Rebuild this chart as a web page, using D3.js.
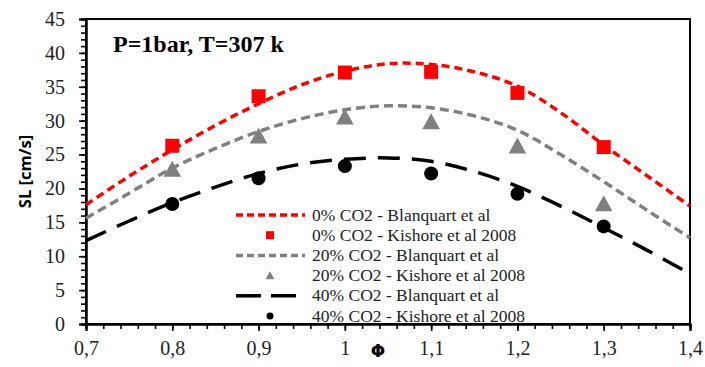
<!DOCTYPE html>
<html><head><meta charset="utf-8">
<script src="https://cdn.jsdelivr.net/npm/d3@7"></script>
<style>
body{margin:0;background:#fff;}
svg{display:block;}
.serif{font-family:"Liberation Serif","Times New Roman",serif;}
</style></head>
<body>
<script>
// ---- data ----
const phiCurve = [0.7,0.75,0.8,0.85,0.9,0.95,1.0,1.05,1.1,1.15,1.2,1.25,1.3,1.35,1.4];
const blanquart0  = [17.6,21.8,25.7,29.3,32.5,35.3,37.3,38.4,38.3,37.2,35.1,31.2,26.4,21.9,17.4];
const blanquart20 = [15.6,19.3,23.0,25.9,28.4,30.3,31.6,32.2,31.9,30.7,28.6,25.0,21.0,16.8,12.7];
const blanquart40 = [12.3,15.2,17.9,20.2,22.2,23.6,24.3,24.5,24.0,22.5,20.3,17.4,14.2,10.9,7.4];
const phiExp = [0.8,0.9,1.0,1.1,1.2,1.3];
const kishore0  = [26.3,33.6,37.1,37.2,34.1,26.1];
const kishore20 = [22.8,27.7,30.5,29.8,26.2,17.7];
const kishore40 = [17.7,21.5,23.3,22.2,19.2,14.4];
const xTicks = [0.7,0.8,0.9,1.0,1.1,1.2,1.3,1.4];
const yTicks = [0,5,10,15,20,25,30,35,40,45];
const legendLabels = ["0% CO2 - Blanquart et al","0% CO2 - Kishore et al 2008","20% CO2 - Blanquart et al","20% CO2 - Kishore et al 2008","40% CO2 - Blanquart et al","40% CO2 - Kishore et al 2008"];
const titleText = "P=1bar, T=307 k";

const W=705,H=367;
const m={l:86,t:19,r:15,b:43};
const svg=d3.select("body").append("svg").attr("width",W).attr("height",H);
const x=d3.scaleLinear().domain([0.7,1.4]).range([m.l,W-m.r]);
const y=d3.scaleLinear().domain([0,45]).range([H-m.b,m.t]);

// frame
svg.append("rect").attr("x",x(0.7)).attr("y",y(45)).attr("width",x(1.4)-x(0.7)).attr("height",y(0)-y(45))
  .attr("fill","none").attr("stroke","#000").attr("stroke-width",2);

// ticks
const xMinor=d3.range(0,36).map(i=>0.7+i*0.02);
const yMinor=d3.range(0,46);
const gx=svg.append("g").attr("transform",`translate(0,${y(0)})`);
gx.call(d3.axisBottom(x).tickValues(xMinor).tickSize(5).tickFormat(""));
const gx2=svg.append("g").attr("transform",`translate(0,${y(0)})`);
gx2.call(d3.axisBottom(x).tickValues(xTicks).tickSize(7).tickPadding(10).tickFormat(d=>d3.format(".1f")(d).replace(".",",").replace(/^1,0$/,"1")));
const gy=svg.append("g").attr("transform",`translate(${x(0.7)},0)`);
gy.call(d3.axisLeft(y).tickValues(yMinor).tickSize(5).tickFormat(""));
const gy2=svg.append("g").attr("transform",`translate(${x(0.7)},0)`);
gy2.call(d3.axisLeft(y).tickValues(yTicks).tickSize(7).tickPadding(14));
[gx,gx2,gy,gy2].forEach(g=>g.attr("font-family",null));
svg.selectAll(".domain").attr("stroke","#000").attr("stroke-width",2);
svg.selectAll(".tick line").attr("stroke","#000").attr("stroke-width",1.6);
svg.selectAll(".tick text").attr("class","serif").style("font-size","20px").attr("fill","#222");

// markers (drawn under lines)
const markerSets=[
  {data:kishore0,type:"square",color:"#ff0000"},
  {data:kishore20,type:"triangle",color:"#808080"},
  {data:kishore40,type:"circle",color:"#000000"}];
function drawMarker(g,type,cx,cy,size,color){
  if(type==="square") g.append("rect").attr("x",cx-size/2).attr("y",cy-size/2).attr("width",size).attr("height",size).attr("fill",color);
  else if(type==="triangle") g.append("path").attr("d",`M${cx},${cy-size*0.55}L${cx+size*0.55},${cy+size*0.45}L${cx-size*0.55},${cy+size*0.45}Z`).attr("fill",color);
  else g.append("circle").attr("cx",cx).attr("cy",cy).attr("r",size/2).attr("fill",color);
}
const mg=svg.append("g");
markerSets.forEach(s=>{
  s.data.forEach((v,i)=>drawMarker(mg,s.type,x(phiExp[i]),y(v),s.type==="triangle"?16:14,s.color));
});

// curves
const lineSets=[
  {data:blanquart0,color:"#ff0000",dash:"8,5"},
  {data:blanquart20,color:"#808080",dash:"9,5"},
  {data:blanquart40,color:"#000000",dash:"22,12"}];
const line=d3.line().x((d,i)=>x(phiCurve[i])).y(d=>y(d)).curve(d3.curveCatmullRom);
lineSets.forEach(s=>{
  svg.append("path").attr("d",line(s.data)).attr("fill","none").attr("stroke",s.color)
    .attr("stroke-width",3.5).attr("stroke-dasharray",s.dash);
});

// legend
const lg=svg.append("g");
const ly0=215, ldy=20.2;
legendLabels.forEach((t,i)=>{
  const yy=ly0+i*ldy;
  if(i%2===0){
    const s=lineSets[i/2];
    lg.append("line").attr("x1",236).attr("x2",305).attr("y1",yy).attr("y2",yy)
      .attr("stroke",s.color).attr("stroke-width",3.5).attr("stroke-dasharray",i===4?"25,10":"7,4");
  } else {
    const s=markerSets[(i-1)/2];
    drawMarker(lg,s.type,270,yy,s.type==="square"?8:(s.type==="triangle"?8:7),s.color);
  }
  lg.append("text").attr("class","serif").attr("x",312).attr("y",yy+5.5).style("font-size","17.5px")
    .attr("fill","#222").text(t);
});

// title
svg.append("text").attr("class","serif").attr("x",113).attr("y",52).style("font-weight","bold")
  .style("font-size","24px").attr("fill","#000").text(titleText);

// axis labels
svg.append("text").attr("transform",`translate(31,${(y(0)+y(45))/2}) rotate(-90)`).attr("text-anchor","middle")
  .style("font-family","'Open Sans',sans-serif").style("font-weight","bold").style("font-size","16.5px").text("SL [cm/s]");
svg.append("text").attr("x",378).attr("y",357).attr("text-anchor","middle")
  .style("font-family","'DejaVu Sans',sans-serif").style("font-weight","bold").style("font-size","17px").text("Φ");
</script>
</body></html>
